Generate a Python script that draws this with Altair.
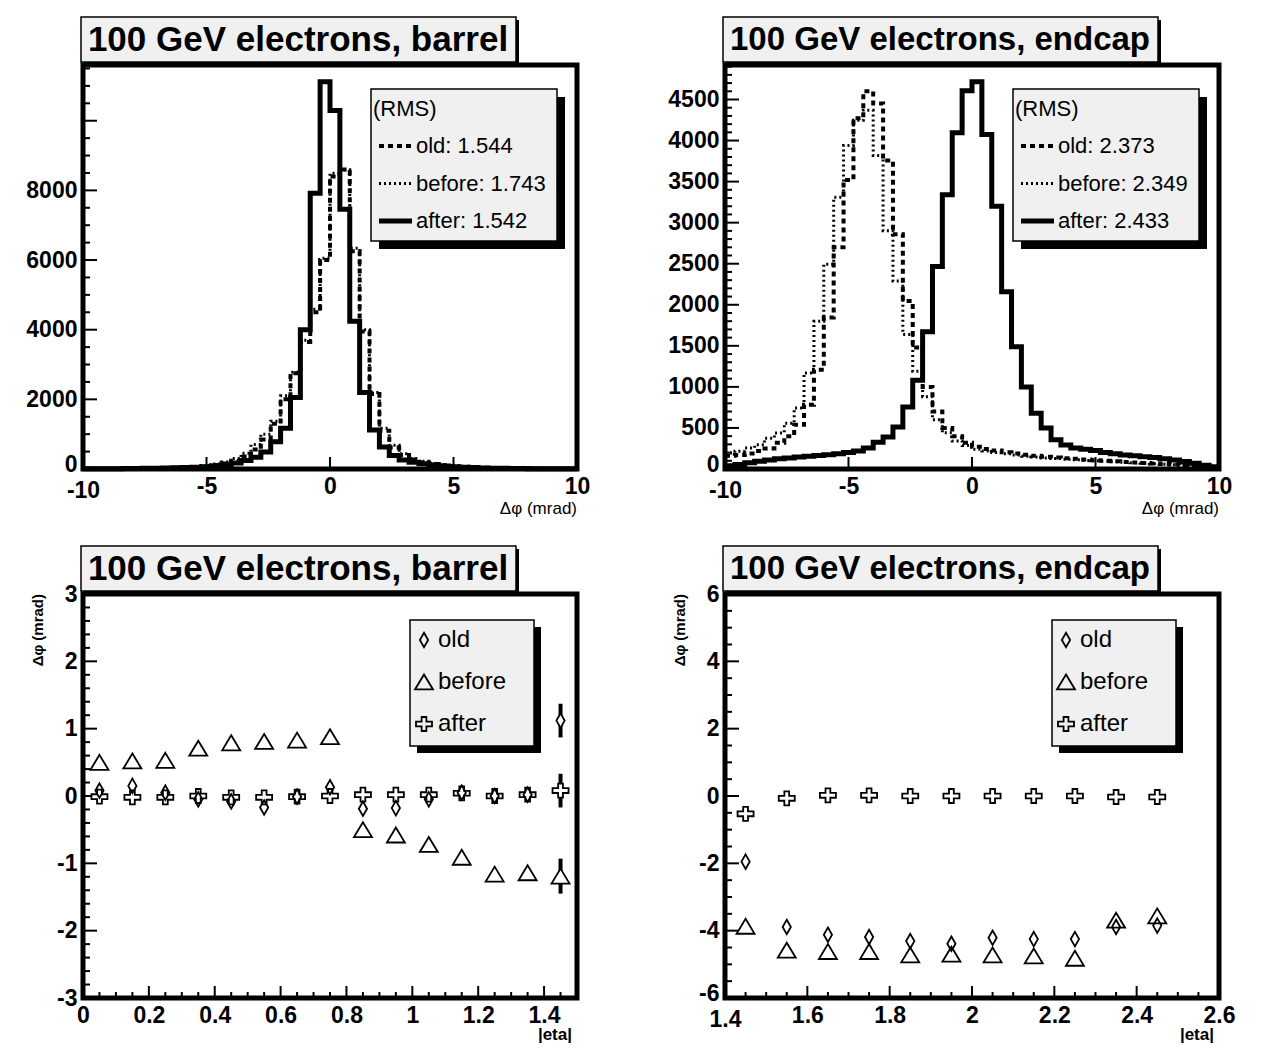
import altair as alt
import pandas as pd

FONT = "Liberation Sans"
W, H = 494, 404

# ---------------- data ----------------
# histogram bins: 50 bins of 0.4 mrad from -10 to 10 (left edges + final right edge)
BIN_EDGES = [round(-10 + 0.4 * i, 1) for i in range(51)]

barrel_old = [4, 5, 6, 8, 10, 13, 16, 20, 26, 34,
              45, 60, 80, 110, 160, 240, 360, 560, 850, 1300,
              2000, 2750, 3650, 4500, 6000,
              8400, 8600, 6250, 3950, 2150,
              1100, 620, 400, 270, 190,
              140, 105, 80, 62, 48,
              38, 30, 24, 19, 15,
              12, 9, 7, 6, 5]
barrel_before = [5, 6, 8, 10, 13, 16, 20, 25, 32, 42,
                 55, 75, 100, 140, 200, 300, 450, 700, 1000, 1370,
                 2100, 2780, 3700, 4590, 6050,
                 8490, 8590, 6340, 4000, 2195,
                 1170, 680, 440, 300, 220,
                 160, 120, 90, 70, 55,
                 45, 35, 28, 22, 18,
                 14, 11, 9, 7, 6]
barrel_after = [6, 7, 8, 10, 12, 15, 18, 22, 27, 33,
                40, 50, 65, 90, 125, 175, 245, 340, 490, 780,
                1170, 2050, 4000, 7920, 11120,
                10290, 7460, 4240, 2195, 1120,
                635, 390, 260, 195, 150,
                115, 85, 65, 50, 40,
                32, 25, 20, 16, 13,
                10, 8, 6, 5, 4]

endcap_old = [160, 170, 190, 220, 250, 320, 400, 538, 782, 1210,
              1846, 2700, 3520, 4270, 4600, 4450, 3757, 2860, 2045, 1479,
              1000, 700, 500, 400, 320,
              270, 245, 225, 205, 190,
              175, 160, 150, 140, 132,
              124, 116, 108, 100, 93,
              86, 80, 74, 68, 62,
              55, 48, 40, 33, 26]
endcap_before = [195, 215, 255, 295, 376, 438, 558, 742, 1170, 1800,
                 2494, 3309, 3940, 4246, 4368, 3818, 2901, 2290, 1638, 1190,
                 880, 600, 440, 340, 285,
                 240, 220, 200, 185, 170,
                 155, 145, 135, 127, 120,
                 112, 105, 99, 93, 87,
                 81, 75, 69, 64, 58,
                 52, 45, 38, 31, 25]
endcap_after = [40, 55, 75, 95, 110, 125, 135, 145, 155, 165,
                175, 185, 200, 220, 255, 326, 390, 510, 755, 1080,
                1670, 2465, 3340, 4095, 4605,
                4715, 4075, 3200, 2160, 1490,
                1000, 680, 500, 355, 293,
                255, 240, 225, 200, 185,
                170, 160, 150, 140, 125,
                110, 90, 70, 45, 28]

barrel_rms = ["1.544", "1.743", "1.542"]
endcap_rms = ["2.373", "2.349", "2.433"]

eta_barrel = [0.05, 0.15, 0.25, 0.35, 0.45, 0.55, 0.65, 0.75, 0.85, 0.95, 1.05, 1.15, 1.25, 1.35, 1.45]
dphi_barrel_old = [0.08, 0.15, 0.05, -0.05, -0.08, -0.17, -0.01, 0.13, -0.19, -0.18, -0.05, 0.05, 0.0, 0.02, 1.12]
dphi_barrel_before = [0.50, 0.52, 0.53, 0.71, 0.79, 0.81, 0.83, 0.88, -0.50, -0.58, -0.72, -0.91, -1.16, -1.14, -1.19]
dphi_barrel_after = [-0.01, -0.02, -0.02, 0.0, -0.02, -0.02, -0.01, 0.0, 0.02, 0.02, 0.02, 0.04, 0.0, 0.02, 0.08]
err_barrel_old = [0.03, 0.03, 0.03, 0.03, 0.03, 0.03, 0.03, 0.03, 0.03, 0.03, 0.03, 0.03, 0.03, 0.03, 0.25]
err_barrel_before = [0.03, 0.03, 0.03, 0.03, 0.03, 0.03, 0.03, 0.03, 0.03, 0.03, 0.03, 0.03, 0.03, 0.03, 0.26]
err_barrel_after = [0.03, 0.03, 0.03, 0.03, 0.03, 0.03, 0.03, 0.03, 0.03, 0.03, 0.03, 0.03, 0.03, 0.03, 0.25]

eta_endcap = [1.45, 1.55, 1.65, 1.75, 1.85, 1.95, 2.05, 2.15, 2.25, 2.35, 2.45]
dphi_endcap_old = [-1.95, -3.89, -4.12, -4.19, -4.31, -4.39, -4.21, -4.25, -4.25, -3.89, -3.85]
dphi_endcap_before = [-3.87, -4.58, -4.62, -4.62, -4.72, -4.70, -4.72, -4.75, -4.82, -3.69, -3.56]
dphi_endcap_after = [-0.53, -0.07, 0.02, 0.02, 0.0, 0.0, 0.0, 0.0, 0.0, -0.03, -0.03]
err_endcap = [0.05, 0.05, 0.05, 0.05, 0.05, 0.05, 0.05, 0.05, 0.05, 0.05, 0.05]

# ---------------- styles ----------------
LINE_STYLE = {
    "old": dict(strokeWidth=4, strokeDash=[5, 4]),
    "before": dict(strokeWidth=3, strokeDash=[2, 3]),
    "after": dict(strokeWidth=5),
}
DIAMOND = "M0,-1L0.57,0L0,1L-0.57,0Z"
TRIANGLE = "M0,-0.83L1,0.83L-1,0.83Z"
CROSS = ("M-0.3,-0.875L0.3,-0.875L0.3,-0.3L1,-0.3L1,0.3L0.3,0.3L0.3,0.875"
         "L-0.3,0.875L-0.3,0.3L-1,0.3L-1,-0.3L-0.3,-0.3Z")
MARKERS = {"old": (DIAMOND, 210), "before": (TRIANGLE, 324), "after": (CROSS, 256)}
MSTROKE = 1.8

ONE = pd.DataFrame({"k": [0]})


def axis(values, pad, corner=None, kind="x"):
    extra = {}
    if corner is not None:
        test = f"datum.value == {corner}"
        if kind == "x":
            extra["labelPadding"] = {"condition": {"test": test, "value": pad + 4}, "value": pad}
        else:
            extra["labelPadding"] = pad
            extra["labelOffset"] = {"condition": {"test": test, "value": -5}, "value": 0}
    else:
        extra["labelPadding"] = pad
    return alt.Axis(values=values, title=None, grid=False, domain=False, ticks=False,
                    labelFlush=False, labelOverlap=False,
                    labelExpr="'' + datum.value", labelFont=FONT, labelFontSize=23,
                    labelFontWeight="bold", labelColor="black", **extra)


def text(s, x, y, size, weight="normal", align="left", angle=0):
    return alt.Chart(ONE).mark_text(text=s, font=FONT, fontSize=size, fontWeight=weight,
                                    align=align, baseline="middle", angle=angle,
                                    color="black").encode(x=alt.value(x), y=alt.value(y))


def rect(x, x2, y, y2, fill, stroke=None):
    kw = dict(fill=fill)
    if stroke:
        kw.update(stroke=stroke, strokeWidth=1.5)
    return alt.Chart(ONE).mark_rect(**kw).encode(
        x=alt.value(x), x2=alt.value(x2), y=alt.value(y), y2=alt.value(y2))


def ticks(xs, ys, ax_x, ax_y, xmaj, xmin, ymaj, ymin, xl=(12, 6), yl=(14, 7)):
    out = []
    for vals, L in ((ymaj, yl[0]), (ymin, yl[1])):
        if vals:
            out.append(alt.Chart(pd.DataFrame({"y": vals})).mark_rule(color="black", strokeWidth=2)
                       .encode(y=alt.Y("y:Q", scale=ys, axis=ax_y), x=alt.value(0), x2=alt.value(L)))
    for vals, L in ((xmaj, xl[0]), (xmin, xl[1])):
        if vals:
            out.append(alt.Chart(pd.DataFrame({"x": vals})).mark_rule(color="black", strokeWidth=2)
                       .encode(x=alt.X("x:Q", scale=xs, axis=ax_x), y=alt.value(H), y2=alt.value(H - L)))
    return out


def title_box(s, size):
    return [rect(1, 436, -45, 0, "black"),
            rect(-2, 433, -48, -3, "#f0f0f0", "black"),
            text(s, 215, -25, size, "bold", "center")]


def hist_panel(title, tsize, series, rms, ydom, ylabels, ymaj, ymin):
    xs = alt.Scale(domain=[-10, 10], nice=False, zero=False)
    ys = alt.Scale(domain=ydom, nice=False, zero=False)
    ax_x = axis([-10, -5, 0, 5, 10], 6, -10, "x")
    ax_y = axis(ylabels, 6, 0, "y")
    layers = ticks(xs, ys, ax_x, ax_y, [-5, 0, 5], [], ymaj, ymin)
    for name, vals in zip(["old", "before", "after"], series):
        df = pd.DataFrame({"x": BIN_EDGES, "y": list(vals) + [vals[-1]]})
        layers.append(alt.Chart(df).mark_line(interpolate="step-after", color="black",
                                              **LINE_STYLE[name])
                      .encode(x=alt.X("x:Q", scale=xs, axis=ax_x),
                              y=alt.Y("y:Q", scale=ys, axis=ax_y)))
    # legend
    layers += [rect(296, 482, 32, 184, "black"), rect(288, 474, 24, 176, "#f0f0f0", "black"),
               text("(RMS)", 290, 44, 22)]
    for i, name in enumerate(["old", "before", "after"]):
        yy = 81 + 37.5 * i
        layers.append(alt.Chart(ONE).mark_rule(color="black", **LINE_STYLE[name])
                      .encode(x=alt.value(296), x2=alt.value(329), y=alt.value(yy)))
        layers.append(text(f"{name}: {rms[i]}", 333, yy, 22))
    layers += title_box(title, tsize)
    layers.append(text("\u0394\u03c6 (mrad)", W, 444, 17, "normal", "right"))
    return alt.layer(*layers).properties(width=W, height=H)


def eta_panel(title, tsize, eta, vals, errs, xdom, xlabels, xmaj, xmin, ydom, ylabels, ymaj, ymin,
              xcorner=None, ycorner=None):
    xs = alt.Scale(domain=xdom, nice=False, zero=False)
    ys = alt.Scale(domain=ydom, nice=False, zero=False)
    ax_x = axis(xlabels, 6, xcorner, "x")
    ax_y = axis(ylabels, 6, ycorner, "y")
    layers = ticks(xs, ys, ax_x, ax_y, xmaj, xmin, ymaj, ymin)
    dfs = {}
    for name in ["old", "before", "after"]:
        dfs[name] = pd.DataFrame({"x": eta, "y": vals[name], "e": errs[name]})
    for name in ["old", "before", "after"]:
        layers.append(alt.Chart(dfs[name]).transform_calculate(
            lo="datum.y - datum.e", hi="datum.y + datum.e")
            .mark_rule(color="black", strokeWidth=4)
            .encode(x=alt.X("x:Q", scale=xs, axis=ax_x),
                    y=alt.Y("lo:Q", scale=ys, axis=ax_y), y2="hi:Q"))
    for name in ["old", "before", "after"]:
        shp, size = MARKERS[name]
        layers.append(alt.Chart(dfs[name]).mark_point(shape=shp, size=size, filled=True,
                                                      fill="white", strokeWidth=0, opacity=1)
                      .encode(x=alt.X("x:Q", scale=xs, axis=ax_x),
                              y=alt.Y("y:Q", scale=ys, axis=ax_y)))
    for name in ["old", "before", "after"]:
        shp, size = MARKERS[name]
        layers.append(alt.Chart(dfs[name]).mark_point(shape=shp, size=size, filled=False,
                                                      stroke="black", strokeWidth=MSTROKE, opacity=1)
                      .encode(x=alt.X("x:Q", scale=xs, axis=ax_x),
                              y=alt.Y("y:Q", scale=ys, axis=ax_y)))
    # legend
    layers += [rect(334, 458, 33, 159, "black"), rect(327, 451, 26, 152, "#f0f0f0", "black")]
    for i, name in enumerate(["old", "before", "after"]):
        yy = 46 + 42 * i
        shp, size = MARKERS[name]
        layers.append(alt.Chart(ONE).mark_point(shape=shp, size=size, filled=False, stroke="black",
                                                strokeWidth=MSTROKE, opacity=1)
                      .encode(x=alt.value(341), y=alt.value(yy)))
        layers.append(text(name, 355, yy, 24))
    layers += title_box(title, tsize)
    layers.append(text("|eta|", 489, 441, 17, "bold", "right"))
    layers.append(text("\u0394\u03c6 (mrad)", -45, 0, 15, "bold", "right", 270))
    return alt.layer(*layers).properties(width=W, height=H)


p1 = hist_panel("100 GeV electrons, barrel", 35,
                [barrel_old, barrel_before, barrel_after], barrel_rms,
                [0, 11600], [0, 2000, 4000, 6000, 8000],
                [2000, 4000, 6000, 8000, 10000],
                [v for v in range(500, 11600, 500) if v % 2000 != 0])
p2 = hist_panel("100 GeV electrons, endcap", 33,
                [endcap_old, endcap_before, endcap_after], endcap_rms,
                [0, 4920], [0, 500, 1000, 1500, 2000, 2500, 3000, 3500, 4000, 4500],
                list(range(500, 4600, 500)),
                [v for v in range(100, 4920, 100) if v % 500 != 0])
p3 = eta_panel("100 GeV electrons, barrel", 35, eta_barrel,
               {"old": dphi_barrel_old, "before": dphi_barrel_before, "after": dphi_barrel_after},
               {"old": err_barrel_old, "before": err_barrel_before, "after": err_barrel_after},
               [0, 1.5], [0, 0.2, 0.4, 0.6, 0.8, 1, 1.2, 1.4],
               [0.2, 0.4, 0.6, 0.8, 1.0, 1.2, 1.4],
               [round(0.05 * i, 2) for i in range(1, 30) if i % 4 != 0],
               [-3, 3], [-3, -2, -1, 0, 1, 2, 3], [-2, -1, 0, 1, 2],
               [round(-3 + 0.2 * i, 1) for i in range(1, 30) if i % 5 != 0])
p4 = eta_panel("100 GeV electrons, endcap", 33, eta_endcap,
               {"old": dphi_endcap_old, "before": dphi_endcap_before, "after": dphi_endcap_after},
               {"old": err_endcap, "before": err_endcap, "after": err_endcap},
               [1.4, 2.6], [1.4, 1.6, 1.8, 2, 2.2, 2.4, 2.6],
               [1.6, 1.8, 2.0, 2.2, 2.4],
               [round(1.4 + 0.05 * i, 2) for i in range(1, 24) if i % 4 != 0],
               [-6, 6], [-6, -4, -2, 0, 2, 4, 6], [-4, -2, 0, 2, 4],
               [round(-6 + 0.5 * i, 1) for i in range(1, 24) if i % 4 != 0],
               xcorner=1.4, ycorner=-6)

chart = alt.concat(p1, p2, p3, p4, columns=2, spacing={"row": 125, "column": 148},
                   bounds="flush").properties(
    padding={"left": 15, "top": 5, "right": 10, "bottom": 10},
    background="white",
).configure_view(stroke="black", strokeWidth=5)

chart.save("out.html", embed_options={"renderer": "svg", "actions": False})
